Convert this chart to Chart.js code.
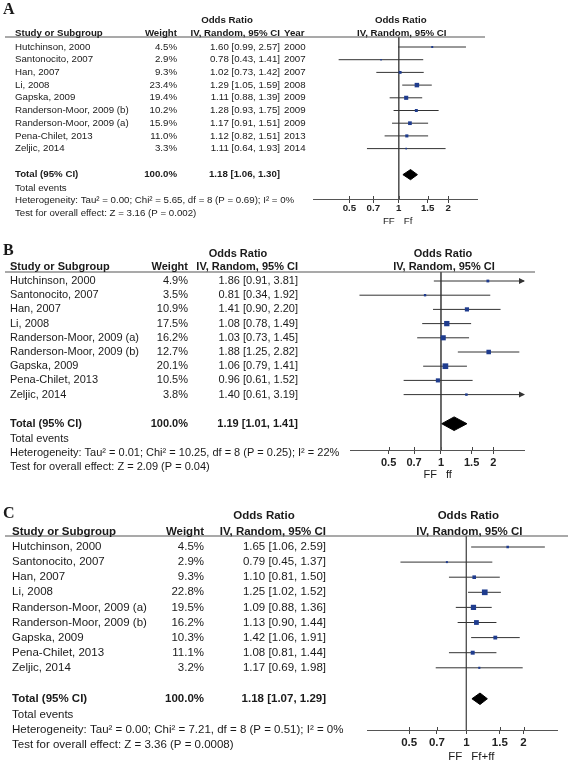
<!DOCTYPE html>
<html>
<head>
<meta charset="utf-8">
<script src="https://cdn.jsdelivr.net/npm/chart.js@4.4.0/dist/chart.umd.min.js"></script>
<style>
  html, body { margin: 0; padding: 0; background: #fff; }
  body { width: 568px; height: 761px; position: relative; overflow: hidden; }
  canvas { position: absolute; left: 0; }
</style>
</head>
<body>
<canvas id="panelA" width="568" height="240" style="top:0px"></canvas>
<canvas id="panelB" width="568" height="250" style="top:240px"></canvas>
<canvas id="panelC" width="568" height="271" style="top:490px"></canvas>
<script>
// panel A
const studiesA = ["Hutchinson, 2000", "Santonocito, 2007", "Han, 2007", "Li, 2008", "Gapska, 2009",
  "Randerson-Moor, 2009 (b)", "Randerson-Moor, 2009 (a)", "Pena-Chilet, 2013", "Zeljic, 2014"];
const weightsA = [4.5, 2.9, 9.3, 23.4, 19.4, 10.2, 15.9, 11.0, 3.3];
const orA = [1.60, 0.78, 1.02, 1.29, 1.11, 1.28, 1.17, 1.12, 1.11];
const lowA = [0.99, 0.43, 0.73, 1.05, 0.88, 0.93, 0.91, 0.82, 0.64];
const highA = [2.57, 1.41, 1.42, 1.59, 1.39, 1.75, 1.51, 1.51, 1.93];
const yearsA = [2000, 2007, 2007, 2008, 2009, 2009, 2009, 2013, 2014];
const totalA = [1.18, 1.06, 1.30];
const hetA = "Heterogeneity: Tau\u00b2 = 0.00; Chi\u00b2 = 5.65, df = 8 (P = 0.69); I\u00b2 = 0%";
const testA = "Test for overall effect: Z = 3.16 (P = 0.002)";
const favoursA = ["FF", "Ff"];

// panel B
const studiesB = ["Hutchinson, 2000", "Santonocito, 2007", "Han, 2007", "Li, 2008", "Randerson-Moor, 2009 (a)",
  "Randerson-Moor, 2009 (b)", "Gapska, 2009", "Pena-Chilet, 2013", "Zeljic, 2014"];
const weightsB = [4.9, 3.5, 10.9, 17.5, 16.2, 12.7, 20.1, 10.5, 3.8];
const orB = [1.86, 0.81, 1.41, 1.08, 1.03, 1.88, 1.06, 0.96, 1.40];
const lowB = [0.91, 0.34, 0.90, 0.78, 0.73, 1.25, 0.79, 0.61, 0.61];
const highB = [3.81, 1.92, 2.20, 1.49, 1.45, 2.82, 1.41, 1.52, 3.19];
const totalB = [1.19, 1.01, 1.41];
const hetB = "Heterogeneity: Tau\u00b2 = 0.01; Chi\u00b2 = 10.25, df = 8 (P = 0.25); I\u00b2 = 22%";
const testB = "Test for overall effect: Z = 2.09 (P = 0.04)";
const favoursB = ["FF", "ff"];

// panel C
const studiesC = ["Hutchinson, 2000", "Santonocito, 2007", "Han, 2007", "Li, 2008", "Randerson-Moor, 2009 (a)",
  "Randerson-Moor, 2009 (b)", "Gapska, 2009", "Pena-Chilet, 2013", "Zeljic, 2014"];
const weightsC = [4.5, 2.9, 9.3, 22.8, 19.5, 16.2, 10.3, 11.1, 3.2];
const orC = [1.65, 0.79, 1.10, 1.25, 1.09, 1.13, 1.42, 1.08, 1.17];
const lowC = [1.06, 0.45, 0.81, 1.02, 0.88, 0.90, 1.06, 0.81, 0.69];
const highC = [2.59, 1.37, 1.50, 1.52, 1.36, 1.44, 1.91, 1.44, 1.98];
const totalC = [1.18, 1.07, 1.29];
const hetC = "Heterogeneity: Tau\u00b2 = 0.00; Chi\u00b2 = 7.21, df = 8 (P = 0.51); I\u00b2 = 0%";
const testC = "Test for overall effect: Z = 3.36 (P = 0.0008)";
const favoursC = ["FF", "Ff+ff"];

const tickValues = [0.5, 0.7, 1, 1.5, 2];
const tickLabels = ["0.5", "0.7", "1", "1.5", "2"];

// rows under the studies (in row units)
const totalRow = 10.05, eventsRow = 11.1, hetRow = 12.1, testRow = 13.1;

// layout, page coordinates
const layoutA = { letter: "A", top: 0, height: 240, area: [313, 477, 37, 199], firstRow: 47, rowH: 12.7,
  font: 9.7, nameX: 15, weightR: 177, orR: 280, yearX: 284, orHeadX: 227, lineEnd: 485,
  letterY: 10, headY: 33, oddsY: 20, tickPad: 0, favY: 22, diamondH: 0.4, sq: 0.93 };
const layoutB = { letter: "B", top: 240, height: 250, area: [350, 524, 272, 450], firstRow: 281, rowH: 14.2,
  font: 11, nameX: 10, weightR: 188, orR: 298, orHeadX: 238, lineEnd: 535,
  letterY: 251, headY: 267, oddsY: 254, tickPad: 2, favY: 25, diamondH: 0.48, sq: 1.27 };
const layoutC = { letter: "C", top: 490, height: 271, area: [367, 557, 536, 730], firstRow: 547, rowH: 15.1,
  font: 11.5, nameX: 12, weightR: 204, orR: 326, orHeadX: 264, lineEnd: 568,
  letterY: 514, headY: 532, oddsY: 516, tickPad: 2, favY: 27, diamondH: 0.38, sq: 1.19 };

const FONT = '"Liberation Sans", Arial, sans-serif';
Chart.defaults.font.family = FONT;
Chart.defaults.color = "#222";

function fmtCI(e, lo, hi) {
  return e.toFixed(2) + " [" + lo.toFixed(2) + ", " + hi.toFixed(2) + "]";
}

// text columns, header line and arrows drawn on the chart canvas
function tablePlugin(d, L) {
  return {
    id: "forestTable",
    beforeDatasetsDraw(chart) {
      const ctx = chart.ctx, a = chart.chartArea, xs = chart.scales.x;
      ctx.save();
      ctx.strokeStyle = "#555";
      ctx.lineWidth = 1.2;
      ctx.beginPath();
      ctx.moveTo(5, a.top);
      ctx.lineTo(L.lineEnd, a.top);
      ctx.stroke();
      // small tick stubs above the axis line
      ctx.strokeStyle = "#444";
      ctx.lineWidth = 1;
      xs.ticks.forEach(t => {
        const px = Math.round(xs.getPixelForValue(t.value)) + 0.5;
        ctx.beginPath();
        ctx.moveTo(px, a.bottom - 3);
        ctx.lineTo(px, a.bottom);
        ctx.stroke();
      });
      ctx.restore();
    },
    afterDatasetsDraw(chart) {
      const ctx = chart.ctx, a = chart.chartArea, xs = chart.scales.x, ys = chart.scales.y;
      ctx.save();
      ctx.fillStyle = "#333";
      d.high.forEach((h, i) => {
        if (h <= xs.max) return;
        const y = ys.getPixelForValue(i);
        ctx.beginPath();
        ctx.moveTo(a.right + 1, y);
        ctx.lineTo(a.right - 5, y - 3);
        ctx.lineTo(a.right - 5, y + 3);
        ctx.closePath();
        ctx.fill();
      });
      ctx.restore();
    },
    afterDraw(chart) {
      const ctx = chart.ctx, a = chart.chartArea, xs = chart.scales.x, ys = chart.scales.y;
      const reg = L.font + "px " + FONT, bold = "bold " + reg;
      const put = (s, x, y, align, f) => { ctx.font = f; ctx.textAlign = align; ctx.fillText(s, x, y); };
      const mid = xs.getPixelForValue(1);
      ctx.save();
      ctx.fillStyle = "#1a1a1a";
      ctx.textBaseline = "middle";
      put(L.letter, 3, L.letterY - L.top, "left", 'bold 16px "Liberation Serif", "Times New Roman", serif');
      put("Odds Ratio", L.orHeadX, L.oddsY - L.top, "center", bold);
      put("Odds Ratio", mid + 2, L.oddsY - L.top, "center", bold);
      put("Study or Subgroup", L.nameX, L.headY - L.top, "left", bold);
      put("Weight", L.weightR, L.headY - L.top, "right", bold);
      put("IV, Random, 95% CI", L.orR, L.headY - L.top, "right", bold);
      put("IV, Random, 95% CI", mid + 3, L.headY - L.top, "center", bold);
      if (d.years) put("Year", L.yearX, L.headY - L.top, "left", bold);
      d.names.forEach((n, i) => {
        const y = ys.getPixelForValue(i);
        put(n, L.nameX, y, "left", reg);
        put(d.weights[i].toFixed(1) + "%", L.weightR, y, "right", reg);
        put(fmtCI(d.or[i], d.low[i], d.high[i]), L.orR, y, "right", reg);
        if (d.years) put(String(d.years[i]), L.yearX, y, "left", reg);
      });
      const ty = ys.getPixelForValue(totalRow);
      put("Total (95% CI)", L.nameX, ty, "left", bold);
      put("100.0%", L.weightR, ty, "right", bold);
      put(fmtCI(d.total[0], d.total[1], d.total[2]), L.orR, ty, "right", bold);
      put("Total events", L.nameX, ys.getPixelForValue(eventsRow), "left", reg);
      put(d.het, L.nameX, ys.getPixelForValue(hetRow), "left", reg);
      put(d.test, L.nameX, ys.getPixelForValue(testRow), "left", reg);
      put(d.favours[0], mid - 4, a.bottom + L.favY, "right", reg);
      put(d.favours[1], mid + 5, a.bottom + L.favY, "left", reg);
      ctx.restore();
    }
  };
}

function buildPanel(canvasId, d, L) {
  const yMin = (L.area[2] - L.firstRow) / L.rowH;
  const yMax = (L.area[3] - L.firstRow) / L.rowH;
  const ciData = [];
  d.or.forEach((_, i) => {
    ciData.push({ x: d.low[i], y: i }, { x: d.high[i], y: i }, { x: null, y: null });
  });
  const t = d.total, h = L.diamondH;
  const diamond = [
    { x: t[1], y: totalRow }, { x: t[0], y: totalRow - h }, { x: t[2], y: totalRow },
    { x: t[0], y: totalRow + h }, { x: t[1], y: totalRow }
  ];
  return new Chart(document.getElementById(canvasId), {
    type: "scatter",
    data: {
      datasets: [
        {
          label: "Odds ratio",
          data: d.or.map((v, i) => ({ x: v, y: i })),
          pointStyle: "rect",
          pointRadius: d.weights.map(w => L.sq * Math.sqrt(w) / Math.SQRT2),
          pointBorderWidth: 0,
          backgroundColor: "#1f3c8e",
          borderColor: "#1f3c8e"
        },
        {
          label: "95% CI",
          data: ciData,
          showLine: true,
          spanGaps: false,
          borderColor: "#333",
          borderWidth: 1,
          pointRadius: 0
        },
        {
          label: "Total",
          data: diamond,
          showLine: true,
          fill: "shape",
          backgroundColor: "#000",
          borderColor: "#000",
          borderWidth: 1,
          pointRadius: 0
        },
        {
          label: "No effect",
          data: [{ x: 1, y: yMin }, { x: 1, y: yMax }],
          showLine: true,
          borderColor: "#555",
          borderWidth: 1,
          pointRadius: 0
        }
      ]
    },
    options: {
      responsive: false,
      animation: false,
      events: [],
      layout: {
        padding: {
          left: L.area[0],
          right: 568 - L.area[1],
          top: L.area[2] - L.top,
          bottom: L.top + L.height - L.area[3] - 20
        }
      },
      plugins: { legend: { display: false }, tooltip: { enabled: false } },
      scales: {
        x: {
          type: "logarithmic",
          min: 1 / 3,
          max: 3,
          afterBuildTicks: s => { s.ticks = tickValues.map(v => ({ value: v })); },
          afterFit: s => { s.height = 20; },
          ticks: {
            autoSkip: false,
            maxRotation: 0,
            padding: L.tickPad,
            color: "#222",
            font: { size: L.font, weight: "bold" },
            callback: (v, i) => tickLabels[i]
          },
          grid: { drawOnChartArea: false, drawTicks: true, tickLength: 4, color: "#444" },
          border: { display: true, color: "#555", width: 1 }
        },
        y: { type: "linear", reverse: true, min: yMin, max: yMax, display: false }
      }
    },
    plugins: [tablePlugin(d, L)]
  });
}

buildPanel("panelA", { names: studiesA, weights: weightsA, or: orA, low: lowA, high: highA, years: yearsA,
  total: totalA, het: hetA, test: testA, favours: favoursA }, layoutA);
buildPanel("panelB", { names: studiesB, weights: weightsB, or: orB, low: lowB, high: highB,
  total: totalB, het: hetB, test: testB, favours: favoursB }, layoutB);
buildPanel("panelC", { names: studiesC, weights: weightsC, or: orC, low: lowC, high: highC,
  total: totalC, het: hetC, test: testC, favours: favoursC }, layoutC);
</script>
</body>
</html>
